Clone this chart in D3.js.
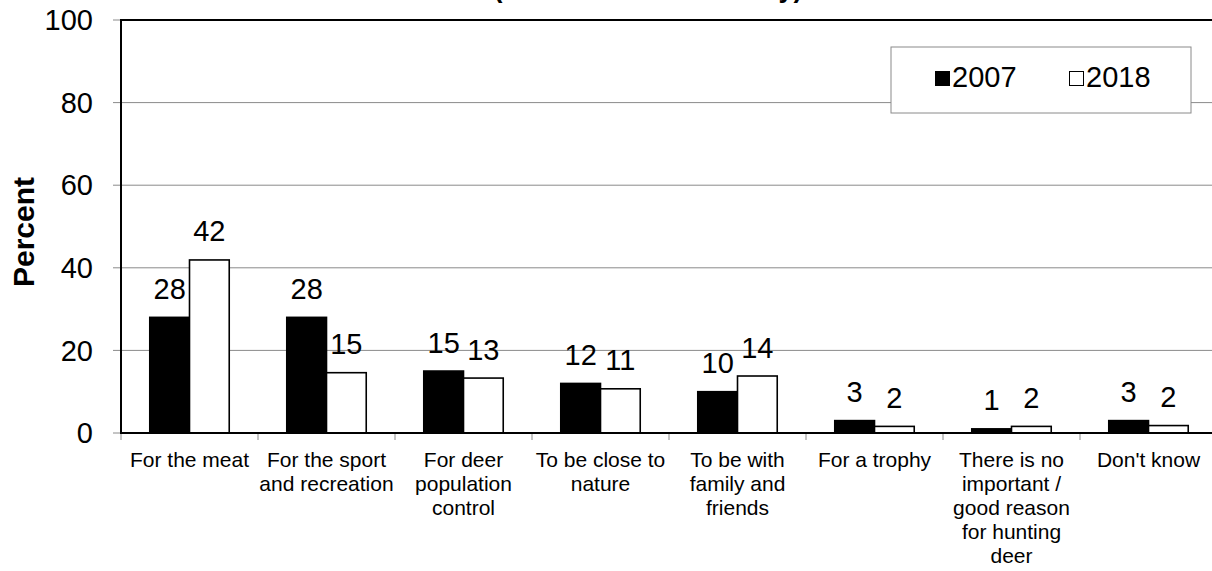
<!DOCTYPE html>
<html>
<head>
<meta charset="utf-8">
<script src="https://cdn.jsdelivr.net/npm/d3@7"></script>
<style>
  html, body { margin: 0; padding: 0; background: #fff; overflow: hidden; }
  svg { display: block; font-family: "Liberation Sans", Arial, sans-serif; }
</style>
</head>
<body>
<svg id="chart" width="1212" height="571"></svg>
<script>
const categories = [
  ["For the meat"],
  ["For the sport", "and recreation"],
  ["For deer", "population", "control"],
  ["To be close to", "nature"],
  ["To be with", "family and", "friends"],
  ["For a trophy"],
  ["There is no", "important /", "good reason", "for hunting", "deer"],
  ["Don't know"]
];
const series = ["2007", "2018"];
const values2007 = [28.0, 28.0, 15.0, 12.0, 10.0, 3.0, 1.0, 3.0];
const values2018 = [41.9, 14.6, 13.3, 10.7, 13.8, 1.6, 1.6, 1.8];
const yTicks = [0, 20, 40, 60, 80, 100];
const titleText = "(Asked of Hunters Only)";
const yTitle = "Percent";

(function () {
const svg = d3.select("#chart");
const pL = 121, pR = 1217, pT = 20, pB = 433;
const catKeys = categories.map((c, i) => i);

const x0 = d3.scaleBand().domain(catKeys).range([pL, pR]).paddingInner(0).paddingOuter(0);
const bw = x0.bandwidth();
const x1 = d3.scaleBand().domain(series).range([bw * 0.21, bw * 0.79]).padding(0);
const y = d3.scaleLinear().domain([0, 100]).range([pB, pT]);

// title (cut off at the top, as in the reference)
svg.append("text").attr("x", 648).attr("y", -3.5).attr("text-anchor", "middle")
  .attr("font-size", 27).attr("font-weight", "bold").text(titleText);

// gridlines
svg.append("g").selectAll("line").data(yTicks.filter(t => t > 0 && t < 100)).join("line")
  .attr("x1", pL).attr("x2", pR).attr("y1", d => y(d)).attr("y2", d => y(d))
  .attr("stroke", "#8a8a8a").attr("stroke-width", 1);

// y ticks
svg.append("g").selectAll("line").data(yTicks).join("line")
  .attr("x1", pL - 8).attr("x2", pL).attr("y1", d => y(d)).attr("y2", d => y(d))
  .attr("stroke", "#8a8a8a").attr("stroke-width", 1);
svg.append("g").selectAll("text").data(yTicks).join("text")
  .attr("x", 93).attr("y", d => y(d)).attr("dy", "0.35em").attr("text-anchor", "end")
  .attr("font-size", 29).attr("fill", "#000").text(d => d);

// x ticks
svg.append("g").selectAll("line").data(catKeys).join("line")
  .attr("x1", d => x0(d)).attr("x2", d => x0(d)).attr("y1", pB).attr("y2", pB + 7)
  .attr("stroke", "#8a8a8a").attr("stroke-width", 1);

// bars
const groups = svg.append("g").selectAll("g").data(catKeys).join("g")
  .attr("transform", d => `translate(${x0(d)},0)`);
const barData = i => [
  { s: "2007", v: values2007[i] },
  { s: "2018", v: values2018[i] }
];
groups.selectAll("rect").data(d => barData(d)).join("rect")
  .attr("x", d => x1(d.s)).attr("width", x1.bandwidth())
  .attr("y", d => y(d.v)).attr("height", d => y(0) - y(d.v))
  .attr("fill", d => d.s === "2007" ? "#000" : "#fff")
  .attr("stroke", "#000").attr("stroke-width", 1.6);
groups.selectAll("text").data(d => barData(d)).join("text")
  .attr("x", d => x1(d.s) + x1.bandwidth() / 2).attr("y", d => y(d.v) - 18.5)
  .attr("text-anchor", "middle").attr("font-size", 29).attr("fill", "#000")
  .text(d => d3.format(".0f")(d.v));

// plot border (top + axes)
svg.append("rect").attr("x", pL).attr("y", pT).attr("width", pR - pL).attr("height", pB - pT)
  .attr("fill", "none").attr("stroke", "#000").attr("stroke-width", 2);

// category labels
svg.append("g").selectAll("text").data(catKeys).join("text")
  .attr("x", d => x0(d) + bw / 2).attr("y", 466.5)
  .attr("text-anchor", "middle").attr("font-size", 21).attr("fill", "#000")
  .each(function(d) {
    const t = d3.select(this);
    categories[d].forEach((line, k) => {
      t.append("tspan").attr("x", x0(d) + bw / 2).attr("dy", k === 0 ? 0 : 24).text(line);
    });
  });

// y title
svg.append("text").attr("transform", "translate(34,232) rotate(-90)")
  .attr("text-anchor", "middle").attr("font-size", 30).attr("font-weight", "bold").text(yTitle);

// legend
const lg = svg.append("g");
lg.append("rect").attr("x", 891).attr("y", 47).attr("width", 300).attr("height", 66)
  .attr("fill", "#fff").attr("stroke", "#8a8a8a").attr("stroke-width", 1);
const legendX = [935, 1069];
series.forEach((s, i) => {
  lg.append("rect").attr("x", legendX[i] + 0.5).attr("y", 71.5).attr("width", 14).attr("height", 14)
    .attr("fill", i === 0 ? "#000" : "#fff").attr("stroke", "#000").attr("stroke-width", 1);
  lg.append("text").attr("x", legendX[i] + 17).attr("y", 87).attr("font-size", 29).attr("fill", "#000").text(s);
});
})();
</script>
</body>
</html>
